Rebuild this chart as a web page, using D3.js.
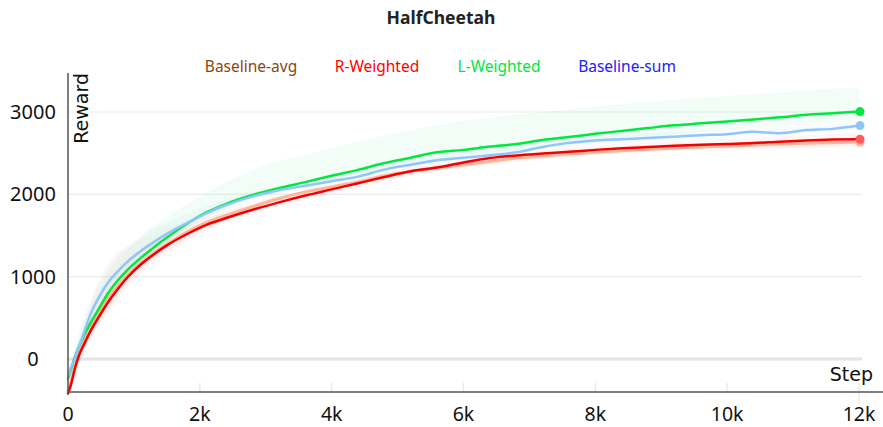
<!DOCTYPE html>
<html><head><meta charset="utf-8">
<script src="https://cdn.jsdelivr.net/npm/d3@7"></script>
<style>
html,body{margin:0;padding:0;background:#fff;}
svg{display:block;}
</style></head>
<body>
<svg id="chart" width="883" height="427"></svg>
<script>
// ---------- data ----------
const title = "HalfCheetah";
const steps = [0,50,100,150,250,350,475,600,750,900,1100,1300,1500,1800,2100,2400,2800,3200,3600,4000,4400,4800,5200,5600,6000,6400,6800,7200,7600,8000,8400,8800,9200,9600,10000,10400,10800,11200,11600,12000];
const baselineAvg = [-400,-260,-80,60,250,410,575,730,880,1010,1160,1285,1395,1540,1660,1745,1850,1950,2030,2090,2150,2225,2280,2320,2360,2400,2440,2465,2490,2510,2530,2545,2560,2575,2585,2600,2610,2620,2628,2635];
const rWeighted   = [-420,-300,-130,5,190,350,520,680,845,990,1145,1270,1380,1515,1630,1712,1812,1902,1985,2060,2135,2210,2280,2325,2387,2440,2472,2495,2516,2540,2560,2575,2590,2602,2612,2622,2640,2655,2665,2669];
const lWeighted   = [-240,-110,10,120,300,450,620,790,950,1080,1225,1355,1475,1640,1780,1885,1992,2075,2148,2225,2297,2380,2445,2510,2540,2580,2612,2660,2695,2735,2770,2805,2838,2862,2885,2910,2935,2966,2985,3005];
const baselineSum = [-210,-90,-15,110,340,560,760,920,1060,1180,1310,1420,1520,1650,1770,1870,1975,2050,2105,2160,2215,2300,2360,2415,2445,2475,2510,2575,2625,2655,2670,2683,2700,2718,2730,2760,2742,2780,2795,2835];

const bandSteps = [0,250,600,1100,1800,2800,4000,5600,7600,9600,12000];
const avgUpper = [-350,420,1150,1450,1680,1900,2120,2360,2530,2610,2680];
const avgLower = [-450,100,550,1050,1450,1800,2050,2280,2450,2540,2590];
const rUpper   = [-380,350,950,1330,1620,1880,2110,2390,2570,2660,2745];
const rLower   = [-440,100,560,1050,1430,1760,2000,2280,2460,2540,2565];
const lUpper   = [-200,480,1050,1480,1880,2290,2560,2840,3030,3170,3300];
const lLower   = [-260,200,700,1150,1580,1930,2150,2420,2600,2760,2900];
const sUpper   = [-150,540,1120,1490,1760,2030,2220,2460,2680,2770,2880];
const sLower   = [-260,200,800,1200,1600,1940,2100,2380,2580,2670,2790];

const legendLabels = ["Baseline-avg","R-Weighted","L-Weighted","Baseline-sum"];
const xTicks = [0,2000,4000,6000,8000,10000,12000];
const xTickLabels = ["0","2k","4k","6k","8k","10k","12k"];
const yTicks = [0,1000,2000,3000];
const yTickLabels = ["0","1000","2000","3000"];

// ---------- layout ----------
const svg = d3.select("#chart");
const x = d3.scaleLinear().domain([0,12000]).range([68,859]);
const y = d3.scaleLinear().domain([0,3000]).range([359,112]);
const plotTop = 73, plotBottom = 392, gridRight = 862;

const series = [
  {name:"Baseline-avg", vals:baselineAvg, up:avgUpper, lo:avgLower, line:"#ffb59c", band:"rgba(255,140,100,0.05)", dot:"#ffae94", w:3},
  {name:"L-Weighted",   vals:lWeighted,   up:lUpper,   lo:lLower,   line:"#00e83f", band:"rgba(40,230,120,0.065)", dot:"#00e83f", w:2.5},
  {name:"Baseline-sum", vals:baselineSum, up:sUpper,   lo:sLower,   line:"#8ec6fb", band:"rgba(120,180,255,0.05)", dot:"#8ec6fb", w:2.5},
  {name:"R-Weighted",   vals:rWeighted,   up:rUpper,   lo:rLower,   line:"#f50000", band:"rgba(255,60,60,0.045)", dot:"#ff5a5a", w:2.5}
];

// title
svg.append("text").attr("x",441).attr("y",24).attr("text-anchor","middle")
  .attr("font-family","Noto Sans").attr("font-weight","bold").attr("font-size",17.5)
  .attr("fill","#222").text(title);

// legend
const legendX = [251,377,499,627];
const legendColors = {"Baseline-avg":"#8b4513","R-Weighted":"#ff0000","L-Weighted":"#00e640","Baseline-sum":"#2020ff"};
legendLabels.forEach((l,i)=>{
  svg.append("text").attr("x",legendX[i]).attr("y",72).attr("text-anchor","middle")
    .attr("font-family","Noto Sans").attr("font-size",15.5).attr("fill",legendColors[l]).text(l);
});

// grid
const g = svg.append("g");
yTicks.forEach(t=>{
  g.append("line").attr("x1",68).attr("x2",gridRight).attr("y1",y(t)).attr("y2",y(t))
    .attr("stroke", t===0 ? "#e4e4ea" : "#ececec").attr("stroke-width", t===0 ? 3 : 1.2);
});
xTicks.forEach(t=>{
  g.append("line").attr("x1",x(t)).attr("x2",x(t)).attr("y1",383).attr("y2", t===12000 ? 405 : plotBottom)
    .attr("stroke","#e6e6e6").attr("stroke-width",1.2);
});

// bands
const area = d3.area().x((d,i)=>x(bandSteps[i])).y0(d=>y(d[0])).y1(d=>y(d[1])).curve(d3.curveMonotoneX);
series.forEach(s=>{
  const pts = bandSteps.map((_,i)=>[s.lo[i], s.up[i]]);
  svg.append("path").attr("d",area(pts)).attr("fill",s.band).attr("stroke","none");
});

// lines
const line = d3.line().x((d,i)=>x(steps[i])).y(d=>y(d)).curve(d3.curveMonotoneX);
series.forEach(s=>{
  svg.append("path").attr("d",line(s.vals)).attr("fill","none").attr("stroke",s.line)
    .attr("stroke-width",s.w).attr("stroke-linejoin","round").attr("stroke-linecap","round");
});
series.forEach(s=>{
  svg.append("circle").attr("cx",x(steps[steps.length-1])+1).attr("cy",y(s.vals[s.vals.length-1]))
    .attr("r",4.5).attr("fill",s.dot);
});

// axes lines
svg.append("line").attr("x1",68).attr("x2",68).attr("y1",plotTop).attr("y2",plotBottom)
  .attr("stroke","#555").attr("stroke-width",1.5);
svg.append("line").attr("x1",68).attr("x2",883).attr("y1",plotBottom).attr("y2",plotBottom)
  .attr("stroke","#555").attr("stroke-width",1.5);

// tick labels
yTicks.forEach((t,i)=>{
  svg.append("text").attr("x",33).attr("y",y(t)+7).attr("text-anchor","middle")
    .attr("font-family","Noto Sans").attr("font-size",20).attr("fill","#111").text(yTickLabels[i]);
});
xTicks.forEach((t,i)=>{
  svg.append("text").attr("x",x(t)).attr("y",421).attr("text-anchor","middle")
    .attr("font-family","Noto Sans").attr("font-size",19.5).attr("fill","#111").text(xTickLabels[i]);
});

// axis titles
svg.append("text").attr("transform","translate(88,73) rotate(-90)").attr("text-anchor","end")
  .attr("font-family","DejaVu Sans").attr("font-size",19).attr("fill","#111").text("Reward");
svg.append("text").attr("x",873).attr("y",381).attr("text-anchor","end")
  .attr("font-family","DejaVu Sans").attr("font-size",19).attr("fill","#111").text("Step");
</script>
</body></html>
